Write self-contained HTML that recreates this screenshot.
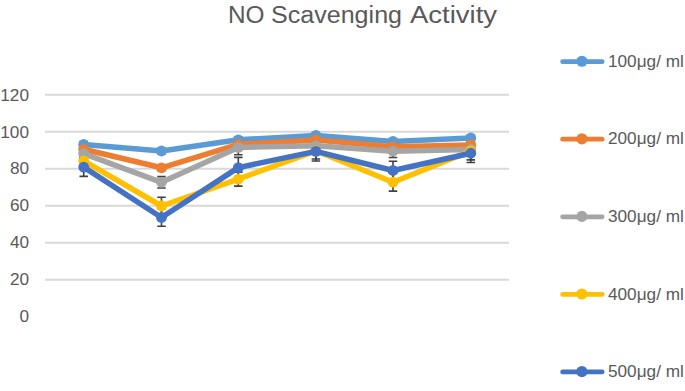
<!DOCTYPE html>
<html><head><meta charset="utf-8">
<style>
html,body{margin:0;padding:0;background:#fff;}
body{width:685px;height:391px;position:relative;overflow:hidden;font-family:"Liberation Sans",sans-serif;color:#595959;}
svg{position:absolute;left:0;top:0;}
.t{position:absolute;top:4px;font-size:23px;line-height:23px;white-space:nowrap;transform-origin:0 0;}
.yl{position:absolute;left:0;width:29px;text-align:right;font-size:17.2px;line-height:18px;}
.lg{position:absolute;left:608px;font-size:17.2px;line-height:18px;white-space:nowrap;}
#w{position:absolute;left:0;top:0;width:685px;height:391px;background:#fff;}
</style></head><body><div id="w">
<svg width="685" height="391" viewBox="0 0 685 391">
<line x1="45.0" y1="279.70" x2="509.0" y2="279.70" stroke="#D9D9D9" stroke-width="2"/>
<line x1="45.0" y1="242.70" x2="509.0" y2="242.70" stroke="#D9D9D9" stroke-width="2"/>
<line x1="45.0" y1="205.70" x2="509.0" y2="205.70" stroke="#D9D9D9" stroke-width="2"/>
<line x1="45.0" y1="168.70" x2="509.0" y2="168.70" stroke="#D9D9D9" stroke-width="2"/>
<line x1="45.0" y1="131.70" x2="509.0" y2="131.70" stroke="#D9D9D9" stroke-width="2"/>
<line x1="45.0" y1="94.70" x2="509.0" y2="94.70" stroke="#D9D9D9" stroke-width="2"/>
<path d="M83.70 141.50V147.50M79.45 141.50H87.95M79.45 147.50H87.95" stroke="#404040" stroke-width="1.6" fill="none"/>
<path d="M161.50 148.00V154.00M157.25 148.00H165.75M157.25 154.00H165.75" stroke="#404040" stroke-width="1.6" fill="none"/>
<path d="M238.30 136.80V142.80M234.05 136.80H242.55M234.05 142.80H242.55" stroke="#404040" stroke-width="1.6" fill="none"/>
<path d="M315.90 132.50V138.50M311.65 132.50H320.15M311.65 138.50H320.15" stroke="#404040" stroke-width="1.6" fill="none"/>
<path d="M393.00 138.50V144.50M388.75 138.50H397.25M388.75 144.50H397.25" stroke="#404040" stroke-width="1.6" fill="none"/>
<path d="M470.80 135.00V141.00M466.55 135.00H475.05M466.55 141.00H475.05" stroke="#404040" stroke-width="1.6" fill="none"/>
<path d="M83.70 146.30V152.30M79.45 146.30H87.95M79.45 152.30H87.95" stroke="#404040" stroke-width="1.6" fill="none"/>
<path d="M161.50 164.80V170.80M157.25 164.80H165.75M157.25 170.80H165.75" stroke="#404040" stroke-width="1.6" fill="none"/>
<path d="M238.30 141.30V147.30M234.05 141.30H242.55M234.05 147.30H242.55" stroke="#404040" stroke-width="1.6" fill="none"/>
<path d="M315.90 137.00V143.00M311.65 137.00H320.15M311.65 143.00H320.15" stroke="#404040" stroke-width="1.6" fill="none"/>
<path d="M393.00 143.80V149.80M388.75 143.80H397.25M388.75 149.80H397.25" stroke="#404040" stroke-width="1.6" fill="none"/>
<path d="M470.80 142.00V148.00M466.55 142.00H475.05M466.55 148.00H475.05" stroke="#404040" stroke-width="1.6" fill="none"/>
<path d="M83.70 149.60V157.60M79.45 149.60H87.95M79.45 157.60H87.95" stroke="#404040" stroke-width="1.6" fill="none"/>
<path d="M161.50 176.60V188.00M157.25 176.60H165.75M157.25 188.00H165.75" stroke="#404040" stroke-width="1.6" fill="none"/>
<path d="M238.30 140.00V154.80M234.05 140.00H242.55M234.05 154.80H242.55" stroke="#404040" stroke-width="1.6" fill="none"/>
<path d="M315.90 140.80V150.80M311.65 140.80H320.15M311.65 150.80H320.15" stroke="#404040" stroke-width="1.6" fill="none"/>
<path d="M393.00 144.90V157.50M388.75 144.90H397.25M388.75 157.50H397.25" stroke="#404040" stroke-width="1.6" fill="none"/>
<path d="M470.80 144.50V154.50M466.55 144.50H475.05M466.55 154.50H475.05" stroke="#404040" stroke-width="1.6" fill="none"/>
<path d="M83.70 155.80V165.80M79.45 155.80H87.95M79.45 165.80H87.95" stroke="#404040" stroke-width="1.6" fill="none"/>
<path d="M161.50 197.30V214.70M157.25 197.30H165.75M157.25 214.70H165.75" stroke="#404040" stroke-width="1.6" fill="none"/>
<path d="M238.30 172.10V186.10M234.05 172.10H242.55M234.05 186.10H242.55" stroke="#404040" stroke-width="1.6" fill="none"/>
<path d="M315.90 142.60V159.00M311.65 142.60H320.15M311.65 159.00H320.15" stroke="#404040" stroke-width="1.6" fill="none"/>
<path d="M393.00 173.30V191.10M388.75 173.30H397.25M388.75 191.10H397.25" stroke="#404040" stroke-width="1.6" fill="none"/>
<path d="M470.80 142.10V159.90M466.55 142.10H475.05M466.55 159.90H475.05" stroke="#404040" stroke-width="1.6" fill="none"/>
<path d="M83.70 157.80V176.40M79.45 157.80H87.95M79.45 176.40H87.95" stroke="#404040" stroke-width="1.6" fill="none"/>
<path d="M161.50 208.70V226.30M157.25 208.70H165.75M157.25 226.30H165.75" stroke="#404040" stroke-width="1.6" fill="none"/>
<path d="M238.30 157.40V177.80M234.05 157.40H242.55M234.05 177.80H242.55" stroke="#404040" stroke-width="1.6" fill="none"/>
<path d="M315.90 141.65V161.05M311.65 141.65H320.15M311.65 161.05H320.15" stroke="#404040" stroke-width="1.6" fill="none"/>
<path d="M393.00 161.20V179.80M388.75 161.20H397.25M388.75 179.80H397.25" stroke="#404040" stroke-width="1.6" fill="none"/>
<path d="M470.80 143.90V162.50M466.55 143.90H475.05M466.55 162.50H475.05" stroke="#404040" stroke-width="1.6" fill="none"/>
<polyline points="83.70,144.50 161.50,151.00 238.30,139.80 315.90,135.50 393.00,141.50 470.80,138.00" fill="none" stroke="#5B9BD5" stroke-width="5.5" stroke-linejoin="round" stroke-linecap="round"/>
<circle cx="83.70" cy="144.50" r="5.4" fill="#5B9BD5"/>
<circle cx="161.50" cy="151.00" r="5.4" fill="#5B9BD5"/>
<circle cx="238.30" cy="139.80" r="5.4" fill="#5B9BD5"/>
<circle cx="315.90" cy="135.50" r="5.4" fill="#5B9BD5"/>
<circle cx="393.00" cy="141.50" r="5.4" fill="#5B9BD5"/>
<circle cx="470.80" cy="138.00" r="5.4" fill="#5B9BD5"/>
<polyline points="83.70,149.30 161.50,167.80 238.30,144.30 315.90,140.00 393.00,146.80 470.80,145.00" fill="none" stroke="#ED7D31" stroke-width="5.5" stroke-linejoin="round" stroke-linecap="round"/>
<circle cx="83.70" cy="149.30" r="5.4" fill="#ED7D31"/>
<circle cx="161.50" cy="167.80" r="5.4" fill="#ED7D31"/>
<circle cx="238.30" cy="144.30" r="5.4" fill="#ED7D31"/>
<circle cx="315.90" cy="140.00" r="5.4" fill="#ED7D31"/>
<circle cx="393.00" cy="146.80" r="5.4" fill="#ED7D31"/>
<circle cx="470.80" cy="145.00" r="5.4" fill="#ED7D31"/>
<polyline points="83.70,153.60 161.50,182.30 238.30,147.40 315.90,145.80 393.00,151.20 470.80,149.50" fill="none" stroke="#A5A5A5" stroke-width="5.5" stroke-linejoin="round" stroke-linecap="round"/>
<circle cx="83.70" cy="153.60" r="5.4" fill="#A5A5A5"/>
<circle cx="161.50" cy="182.30" r="5.4" fill="#A5A5A5"/>
<circle cx="238.30" cy="147.40" r="5.4" fill="#A5A5A5"/>
<circle cx="315.90" cy="145.80" r="5.4" fill="#A5A5A5"/>
<circle cx="393.00" cy="151.20" r="5.4" fill="#A5A5A5"/>
<circle cx="470.80" cy="149.50" r="5.4" fill="#A5A5A5"/>
<polyline points="83.70,160.80 161.50,206.00 238.30,179.10 315.90,150.80 393.00,182.20 470.80,151.00" fill="none" stroke="#FFC000" stroke-width="5.5" stroke-linejoin="round" stroke-linecap="round"/>
<circle cx="83.70" cy="160.80" r="5.4" fill="#FFC000"/>
<circle cx="161.50" cy="206.00" r="5.4" fill="#FFC000"/>
<circle cx="238.30" cy="179.10" r="5.4" fill="#FFC000"/>
<circle cx="315.90" cy="150.80" r="5.4" fill="#FFC000"/>
<circle cx="393.00" cy="182.20" r="5.4" fill="#FFC000"/>
<circle cx="470.80" cy="151.00" r="5.4" fill="#FFC000"/>
<polyline points="83.70,167.10 161.50,217.50 238.30,167.60 315.90,151.35 393.00,170.50 470.80,153.20" fill="none" stroke="#4472C4" stroke-width="5.5" stroke-linejoin="round" stroke-linecap="round"/>
<circle cx="83.70" cy="167.10" r="5.4" fill="#4472C4"/>
<circle cx="161.50" cy="217.50" r="5.4" fill="#4472C4"/>
<circle cx="238.30" cy="167.60" r="5.4" fill="#4472C4"/>
<circle cx="315.90" cy="151.35" r="5.4" fill="#4472C4"/>
<circle cx="393.00" cy="170.50" r="5.4" fill="#4472C4"/>
<circle cx="470.80" cy="153.20" r="5.4" fill="#4472C4"/>
<line x1="562.6" y1="61.65" x2="602.2" y2="61.65" stroke="#5B9BD5" stroke-width="4.7" stroke-linecap="round"/>
<circle cx="581.9" cy="61.25" r="5.6" fill="#5B9BD5"/>
<line x1="562.6" y1="139.22" x2="602.2" y2="139.22" stroke="#ED7D31" stroke-width="4.7" stroke-linecap="round"/>
<circle cx="581.9" cy="138.82" r="5.6" fill="#ED7D31"/>
<line x1="562.6" y1="216.80" x2="602.2" y2="216.80" stroke="#A5A5A5" stroke-width="4.7" stroke-linecap="round"/>
<circle cx="581.9" cy="216.40" r="5.6" fill="#A5A5A5"/>
<line x1="562.6" y1="294.38" x2="602.2" y2="294.38" stroke="#FFC000" stroke-width="4.7" stroke-linecap="round"/>
<circle cx="581.9" cy="293.98" r="5.6" fill="#FFC000"/>
<line x1="562.6" y1="371.95" x2="602.2" y2="371.95" stroke="#4472C4" stroke-width="4.7" stroke-linecap="round"/>
<circle cx="581.9" cy="371.55" r="5.6" fill="#4472C4"/>
</svg>
<div class="t" style="left:227.5px;transform:scaleX(1.06)">NO</div><div class="t" style="left:271px;transform:scaleX(1.09)">Scavenging</div><div class="t" style="left:409.5px;transform:scaleX(1.195)">Activity</div>
<div class="yl" style="top:270.00px">20</div><div class="yl" style="top:233.15px">40</div><div class="yl" style="top:196.30px">60</div><div class="yl" style="top:159.45px">80</div><div class="yl" style="top:122.60px">100</div><div class="yl" style="top:85.75px">120</div><div class="yl" style="top:306.85px">0</div>
<div class="lg" style="top:51.79px">100μg/ ml</div><div class="lg" style="top:129.36px">200μg/ ml</div><div class="lg" style="top:206.94px">300μg/ ml</div><div class="lg" style="top:284.52px">400μg/ ml</div><div class="lg" style="top:362.09px">500μg/ ml</div>
</div></body></html>
